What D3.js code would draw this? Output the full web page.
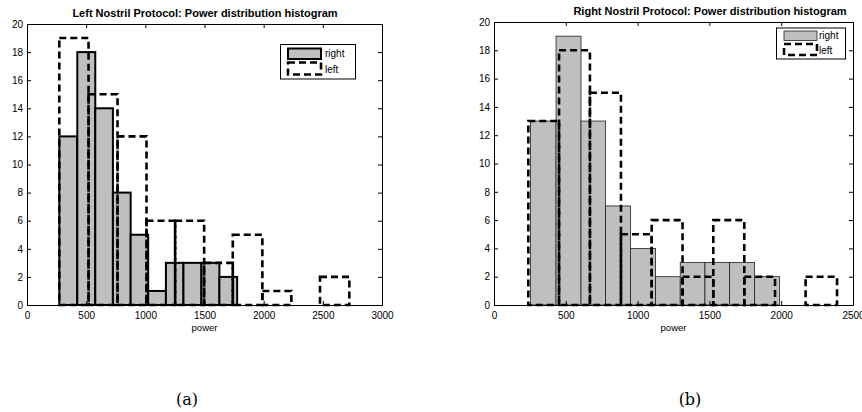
<!DOCTYPE html>
<html>
<head>
<meta charset="utf-8">
<script src="https://cdn.jsdelivr.net/npm/d3@7"></script>
<style>
  html, body { margin: 0; padding: 0; background: #fff; }
  svg { display: block; }
  text { font-family: "Liberation Sans", Arial, Helvetica, sans-serif; fill: #000; }
</style>
</head>
<body>
<svg id="fig" width="862" height="412"></svg>
<script>
// ---- Panel (a): Left Nostril Protocol ----
const titleA = "Left Nostril Protocol: Power distribution histogram";
const rightEdgesA = [273, 425, 577, 726, 876, 1024, 1174, 1322, 1474, 1626, 1776];
const rightCountsA = [12, 18, 14, 8, 5, 1, 3, 3, 3, 2];
const leftEdgesA = [273, 520, 765, 1010, 1252, 1497, 1739, 1989, 2234, 2476, 2724];
const leftCountsA = [19, 15, 12, 6, 6, 3, 5, 1, 0, 2];
const xTicksA = [0, 500, 1000, 1500, 2000, 2500, 3000];

// ---- Panel (b): Right Nostril Protocol ----
const titleB = "Right Nostril Protocol: Power distribution histogram";
const rightEdgesB = [255, 432, 606, 777, 951, 1125, 1297, 1469, 1641, 1815, 1989];
const rightCountsB = [13, 19, 13, 7, 4, 2, 3, 3, 3, 2];
const leftEdgesB = [239, 453, 668, 884, 1098, 1313, 1527, 1743, 1957, 2170, 2389];
const leftCountsB = [13, 18, 15, 5, 6, 2, 6, 2, 0, 2];
const xTicksB = [0, 500, 1000, 1500, 2000, 2500];

const yTicks = [0, 2, 4, 6, 8, 10, 12, 14, 16, 18, 20];
const seriesNames = ["right", "left"];
const xLabel = "power";
const captions = ["(a)", "(b)"];

const svg = d3.select("#fig");
const GRAY = "#bfbfbf";
const DASH = "7,4";
const fmt = d3.format("d");

function toBins(edges, counts) {
  return counts.map((c, i) => ({ x0: edges[i], x1: edges[i + 1], n: c }));
}

function drawPanel(cfg) {
  const { box, xMax, xTicks, title, titleX, titleY, rightBins, leftBins,
          grayStroke, grayStrokeW, legend, caption, captionX } = cfg;
  const x = d3.scaleLinear().domain([0, xMax]).range([box.l, box.r]);
  const y = d3.scaleLinear().domain([0, 20]).range([box.b, box.t]);
  const g = svg.append("g");

  // gray histogram ("right")
  g.append("g").selectAll("rect").data(rightBins).join("rect")
    .attr("x", d => x(d.x0)).attr("width", d => x(d.x1) - x(d.x0))
    .attr("y", d => y(d.n)).attr("height", d => y(0) - y(d.n))
    .attr("fill", GRAY).attr("stroke", grayStroke).attr("stroke-width", grayStrokeW);

  // dashed outline histogram ("left")
  g.append("g").selectAll("rect").data(leftBins).join("rect")
    .attr("x", d => x(d.x0)).attr("width", d => x(d.x1) - x(d.x0))
    .attr("y", d => y(d.n)).attr("height", d => y(0) - y(d.n))
    .attr("fill", "none").attr("stroke", "#000").attr("stroke-width", 2.6)
    .attr("stroke-dasharray", DASH);

  // axes: labelled bottom/left, tick-only top/right, ticks pointing inward
  const tk = 4;
  const axB = g.append("g").attr("transform", `translate(0,${box.b})`)
    .call(d3.axisBottom(x).tickValues(xTicks).tickFormat(fmt)
      .tickSizeInner(-tk).tickSizeOuter(0).tickPadding(6.5));
  const axL = g.append("g").attr("transform", `translate(${box.l},0)`)
    .call(d3.axisLeft(y).tickValues(yTicks).tickFormat(fmt)
      .tickSizeInner(-tk).tickSizeOuter(0).tickPadding(4));
  const axT = g.append("g").attr("transform", `translate(0,${box.t})`)
    .call(d3.axisTop(x).tickValues(xTicks).tickSizeInner(-tk).tickSizeOuter(0).tickFormat(""));
  const axR = g.append("g").attr("transform", `translate(${box.r},0)`)
    .call(d3.axisRight(y).tickValues(yTicks).tickSizeInner(-tk).tickSizeOuter(0).tickFormat(""));
  [axB, axL, axT, axR].forEach(a => {
    a.select(".domain").attr("stroke", "#000").attr("stroke-width", 1);
    a.selectAll(".tick line").attr("stroke", "#000");
    a.selectAll("text").attr("font-size", 10)
      .style("font-family", '"Liberation Sans", Arial, sans-serif');
  });

  // title
  g.append("text").attr("x", titleX).attr("y", titleY).attr("text-anchor", "middle")
    .attr("font-size", 11).attr("font-weight", "bold").text(title);

  // x label
  g.append("text").attr("x", (box.l + box.r) / 2).attr("y", 331).attr("text-anchor", "middle")
    .attr("font-size", 9.5).text(xLabel);

  // legend
  const L = legend;
  g.append("rect").attr("x", L.x).attr("y", L.y).attr("width", L.w).attr("height", L.h)
    .attr("fill", "#fff").attr("stroke", "#000").attr("stroke-width", 1);
  g.append("rect").attr("x", L.px).attr("y", L.p1y).attr("width", L.pw).attr("height", L.ph)
    .attr("fill", GRAY).attr("stroke", grayStroke).attr("stroke-width", grayStrokeW);
  g.append("rect").attr("x", L.px).attr("y", L.p2y).attr("width", L.pw).attr("height", L.ph2)
    .attr("fill", "none").attr("stroke", "#000").attr("stroke-width", 2.6)
    .attr("stroke-dasharray", DASH);
  g.append("text").attr("x", L.tx).attr("y", L.t1y).attr("font-size", 10).text(seriesNames[0]);
  g.append("text").attr("x", L.tx).attr("y", L.t2y).attr("font-size", 10).text(seriesNames[1]);

  // sub-figure caption
  g.append("text").attr("x", captionX).attr("y", 405).attr("text-anchor", "middle")
    .style("font-family", '"DejaVu Serif", "Liberation Serif", serif')
    .attr("font-size", 16).text(caption);
}

drawPanel({
  box: { l: 27, r: 382, t: 24, b: 305 }, xMax: 3000, xTicks: xTicksA,
  title: titleA, titleX: 205, titleY: 16.5,
  rightBins: toBins(rightEdgesA, rightCountsA), leftBins: toBins(leftEdgesA, leftCountsA),
  grayStroke: "#000", grayStrokeW: 2,
  legend: { x: 280.5, y: 44.5, w: 75, h: 34.5, px: 288, pw: 33, p1y: 48.5, ph: 10.5,
            p2y: 62.5, ph2: 12, tx: 325, t1y: 57, t2y: 72.5 },
  caption: captions[0], captionX: 187
});

drawPanel({
  box: { l: 494, r: 853, t: 22, b: 305 }, xMax: 2500, xTicks: xTicksB,
  title: titleB, titleX: 710, titleY: 14.5,
  rightBins: toBins(rightEdgesB, rightCountsB), leftBins: toBins(leftEdgesB, leftCountsB),
  grayStroke: "#222", grayStrokeW: 0.8,
  legend: { x: 776.5, y: 28, w: 69, h: 31, px: 784, pw: 33, p1y: 31, ph: 9.5,
            p2y: 44, ph2: 11, tx: 819, t1y: 39, t2y: 53.5 },
  caption: captions[1], captionX: 690
});
</script>
</body>
</html>
